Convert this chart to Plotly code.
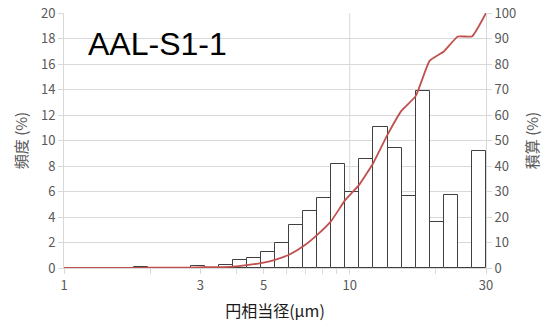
import plotly.graph_objects as go
import math

# bin edges (μm), geometric bins from 1 to 30
bin_edges = [1.000, 1.120, 1.254, 1.405, 1.574, 1.763, 1.974, 2.211, 2.477, 2.774,
             3.107, 3.480, 3.898, 4.366, 4.891, 5.477, 6.135, 6.872, 7.697, 8.621,
             9.655, 10.81, 12.11, 13.57, 15.19, 17.02, 19.06, 21.35, 23.91, 26.78, 30.0]

# frequency (%) per bin
freq = [0, 0, 0, 0, 0, 0.08, 0, 0, 0, 0.18,
        0, 0.23, 0.60, 0.80, 1.27, 1.98, 3.35, 4.45, 5.46, 8.17,
        5.98, 8.58, 11.05, 9.41, 5.64, 13.89, 3.62, 5.70, 0, 9.21]

# cumulative (%) at each bin edge
cumulative = [0, 0, 0, 0, 0, 0, 0.1, 0.1, 0.1, 0.1,
              0.3, 0.3, 0.5, 1.1, 1.9, 3.2, 5.2, 8.5, 13.0, 18.5,
              26.7, 32.7, 41.3, 52.3, 61.7, 67.4, 81.3, 84.9, 90.8, 90.8, 100]

x_tick_vals = [1, 3, 5, 10, 30]
x_tick_text = ["1", "3", "5", "10", "30"]
x_minor_vals = [2, 4, 6, 7, 8, 9, 20]

# bar spans [lo, hi]; on a log axis plotly applies width in data units
centers = [(bin_edges[i] + bin_edges[i + 1]) / 2 for i in range(len(freq))]
widths = [bin_edges[i + 1] - bin_edges[i] for i in range(len(freq))]

GRID = "#D9D9D9"
TICKC = "#595959"
FONT = "Noto Sans CJK JP"

fig = go.Figure()
fig.add_trace(go.Bar(
    x=centers, y=freq, width=widths,
    marker=dict(color="white", line=dict(color="#404040", width=1)),
    yaxis="y", showlegend=False,
))
fig.add_trace(go.Scatter(
    x=bin_edges, y=cumulative, mode="lines",
    line=dict(color="#C0504D", width=1.8, shape="spline", smoothing=0.4),
    yaxis="y2", showlegend=False,
))

fig.add_shape(type="line", xref="x", yref="paper", x0=10, x1=10, y0=0, y1=1,
              line=dict(color=GRID, width=1), layer="below")

fig.add_annotation(text="AAL-S1-1", xref="paper", yref="paper", x=0.053, y=0.955,
                   xanchor="left", yanchor="top", showarrow=False,
                   font=dict(family="Liberation Sans, Arial", size=32, color="#000000"))

fig.update_layout(
    width=543, height=323,
    margin=dict(l=64, r=57, t=13, b=55, autoexpand=False),
    paper_bgcolor="white", plot_bgcolor="white",
    bargap=0,
    font=dict(family=FONT, color=TICKC, size=12),
    xaxis=dict(
        type="log", range=[0, math.log10(30)],
        tickvals=x_tick_vals, ticktext=x_tick_text,
        ticks="outside", ticklen=5, tickcolor=GRID,
        minor=dict(tickvals=x_minor_vals, ticks="outside", ticklen=5, tickcolor=GRID, showgrid=False),
        showgrid=False, showline=True, linecolor=GRID, linewidth=1,
        zeroline=False, automargin=False,
        tickfont=dict(size=13, color=TICKC, family=FONT),
        title=dict(text="円相当径(μm)", font=dict(size=16, color="#1a1a1a", family=FONT), standoff=13),
    ),
    yaxis=dict(
        range=[0, 20], dtick=2, tick0=0,
        showgrid=True, gridcolor=GRID, gridwidth=1,
        ticks="outside", ticklen=5, tickcolor=GRID,
        showline=True, linecolor=GRID, linewidth=1,
        zeroline=False, automargin=False,
        tickfont=dict(size=13, color=TICKC, family=FONT),
        title=dict(text="頻度 (%)", font=dict(size=15, color=TICKC, family=FONT), standoff=9),
    ),
    yaxis2=dict(
        range=[0, 100], dtick=10, tick0=0,
        overlaying="y", side="right",
        showgrid=False,
        ticks="outside", ticklen=5, tickcolor=GRID,
        showline=True, linecolor=GRID, linewidth=1,
        zeroline=False, automargin=False,
        tickfont=dict(size=13, color=TICKC, family=FONT),
        title=dict(text="積算 (%)", font=dict(size=15, color=TICKC, family=FONT), standoff=12),
    ),
)

fig.write_html("out.html", config={"displayModeBar": False},
               post_script="document.body.style.margin='0';document.body.style.overflow='hidden';")
